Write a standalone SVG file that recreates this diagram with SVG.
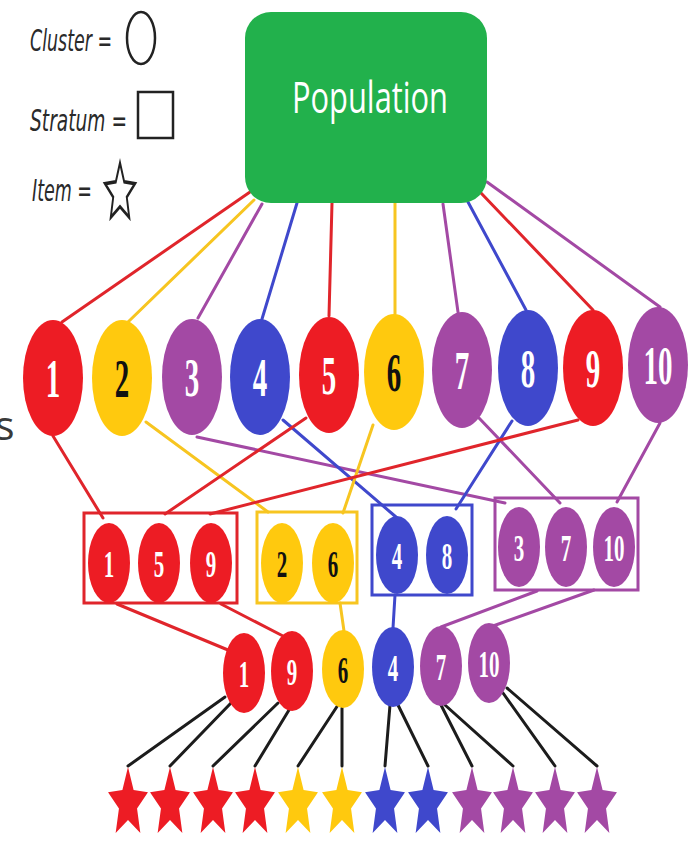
<svg xmlns="http://www.w3.org/2000/svg" width="693" height="842" viewBox="0 0 693 842">
<style>
.r{fill:#ED1C24}.y{fill:#FFC90E}.p{fill:#A349A4}.b{fill:#3F48CC}
.lr{stroke:#E0252B}.ly{stroke:#F7C520}.lp{stroke:#A349A4}.lb{stroke:#3F48CC}.lk{stroke:#1c1c1c;stroke-width:3.5}
.conn line{stroke-width:3;stroke-linecap:round}
.box{fill:none;stroke-width:3}
.n1{font-family:"Liberation Serif",serif;font-size:29px;font-weight:bold;text-anchor:middle;fill:#fff}
.n2{font-family:"Liberation Serif",serif;font-size:21px;font-weight:bold;text-anchor:middle;fill:#fff}
.dk{fill:#111}
.leg{font-family:"DejaVu Sans",sans-serif;font-style:italic;font-size:19px;fill:#2a2a2a}
.legs{fill:none;stroke:#222;stroke-width:2.5}
</style>
<defs>
<polygon id="star" points="0,-21 5.6,-7.7 19.97,-6.49 9.04,2.94 12.34,16.99 0,9.5 -12.34,16.99 -9.04,2.94 -19.97,-6.49 -5.6,-7.7"/>
</defs>
<rect width="693" height="842" fill="#fff"/>
<text x="-5" y="440" font-family="Open Sans, sans-serif" font-size="41" fill="#3a3a3a">s</text>

<g id="legend">
<text class="leg" transform="translate(30,51) scale(1,1.6)" textLength="82" lengthAdjust="spacingAndGlyphs">Cluster =</text>
<ellipse class="legs" cx="141" cy="38" rx="14" ry="26"/>
<text class="leg" transform="translate(30,131) scale(1,1.6)" textLength="97" lengthAdjust="spacingAndGlyphs">Stratum =</text>
<rect class="legs" x="138" y="92" width="35" height="46"/>
<text class="leg" transform="translate(32,201) scale(1,1.6)" textLength="60" lengthAdjust="spacingAndGlyphs">Item =</text>
<use href="#star" transform="translate(120,193) scale(0.75,1.44)" fill="#fff" stroke="#222" stroke-width="2.5" style="vector-effect:non-scaling-stroke"/>
</g>

<g class="conn" id="connectors">
<line class="lr" x1="250" y1="192" x2="62" y2="322"/>
<line class="ly" x1="254" y1="200" x2="128" y2="322"/>
<line class="lp" x1="262" y1="204" x2="198" y2="318"/>
<line class="lb" x1="297" y1="203" x2="262" y2="319"/>
<line class="lr" x1="332" y1="203" x2="329" y2="316"/>
<line class="ly" x1="395" y1="203" x2="395" y2="314"/>
<line class="lp" x1="443" y1="204" x2="458" y2="312"/>
<line class="lb" x1="468" y1="202" x2="526" y2="310"/>
<line class="lr" x1="481" y1="193" x2="593" y2="310"/>
<line class="lp" x1="487" y1="182" x2="660" y2="307"/>

<line class="lr" x1="53" y1="436" x2="103" y2="518"/>
<line class="ly" x1="146" y1="422" x2="268" y2="512"/>
<line class="lp" x1="197" y1="437" x2="505" y2="503"/>
<line class="lb" x1="283" y1="420" x2="396" y2="517"/>
<line class="lr" x1="306" y1="418" x2="165" y2="514"/>
<line class="ly" x1="373" y1="425" x2="343" y2="513"/>
<line class="lp" x1="479" y1="418" x2="560" y2="503"/>
<line class="lb" x1="512" y1="421" x2="456" y2="509"/>
<line class="lr" x1="578" y1="420" x2="210" y2="514"/>
<line class="lp" x1="660" y1="423" x2="617" y2="502"/>

<line class="lr" x1="117" y1="604" x2="228" y2="650"/>
<line class="lr" x1="221" y1="604" x2="283" y2="636"/>
<line class="ly" x1="340" y1="603" x2="344" y2="631"/>
<line class="lb" x1="395" y1="595" x2="393" y2="628"/>
<line class="lp" x1="537" y1="591" x2="441" y2="627"/>
<line class="lp" x1="594" y1="590" x2="493" y2="626"/>

<line class="lk" x1="225" y1="697" x2="128" y2="766"/>
<line class="lk" x1="231" y1="703" x2="170" y2="766"/>
<line class="lk" x1="278" y1="703" x2="213" y2="766"/>
<line class="lk" x1="289" y1="710" x2="255" y2="766"/>
<line class="lk" x1="338" y1="705" x2="298" y2="766"/>
<line class="lk" x1="342" y1="708" x2="342" y2="766"/>
<line class="lk" x1="390" y1="705" x2="385" y2="766"/>
<line class="lk" x1="398" y1="705" x2="428" y2="766"/>
<line class="lk" x1="441" y1="705" x2="472" y2="766"/>
<line class="lk" x1="445" y1="705" x2="513" y2="766"/>
<line class="lk" x1="503" y1="693" x2="555" y2="766"/>
<line class="lk" x1="507" y1="688" x2="597" y2="766"/>
</g>

<g id="population">
<rect x="245" y="12" width="242" height="191" rx="26" fill="#22B14C"/>
<text transform="translate(370,113) scale(1,1.35)" font-family="Open Sans, sans-serif" font-size="33" fill="#fff" text-anchor="middle" textLength="156" lengthAdjust="spacingAndGlyphs">Population</text>
</g>

<g id="cluster-1"><ellipse class="r" cx="53" cy="378" rx="30" ry="58"/><text class="n1" transform="translate(53,397) scale(1,1.9)">1</text></g>
<g id="cluster-2"><ellipse class="y" cx="122" cy="378" rx="30" ry="58"/><text class="n1 dk" transform="translate(122,397) scale(1,1.9)">2</text></g>
<g id="cluster-3"><ellipse class="p" cx="192" cy="377" rx="30" ry="58"/><text class="n1" transform="translate(192,396) scale(1,1.9)">3</text></g>
<g id="cluster-4"><ellipse class="b" cx="260" cy="377" rx="30" ry="58"/><text class="n1" transform="translate(260,396) scale(1,1.9)">4</text></g>
<g id="cluster-5"><ellipse class="r" cx="329" cy="375" rx="30" ry="58"/><text class="n1" transform="translate(329,394) scale(1,1.9)">5</text></g>
<g id="cluster-6"><ellipse class="y" cx="394" cy="372" rx="30" ry="58"/><text class="n1 dk" transform="translate(394,391) scale(1,1.9)">6</text></g>
<g id="cluster-7"><ellipse class="p" cx="462" cy="370" rx="30" ry="58"/><text class="n1" transform="translate(462,389) scale(1,1.9)">7</text></g>
<g id="cluster-8"><ellipse class="b" cx="528" cy="368" rx="30" ry="58"/><text class="n1" transform="translate(528,387) scale(1,1.9)">8</text></g>
<g id="cluster-9"><ellipse class="r" cx="593" cy="368" rx="30" ry="58"/><text class="n1" transform="translate(593,387) scale(1,1.9)">9</text></g>
<g id="cluster-10"><ellipse class="p" cx="658" cy="365" rx="30" ry="58"/><text class="n1" transform="translate(658,384) scale(1,1.9)">10</text></g>

<g id="stratum-red">
<rect class="box" x="84" y="513" width="153" height="90" stroke="#E0252B"/>
<ellipse class="r" cx="109" cy="563" rx="21" ry="40"/><text class="n2" transform="translate(109,577) scale(1,1.85)">1</text>
<ellipse class="r" cx="159" cy="563" rx="21" ry="40"/><text class="n2" transform="translate(159,577) scale(1,1.85)">5</text>
<ellipse class="r" cx="211" cy="563" rx="21" ry="40"/><text class="n2" transform="translate(211,577) scale(1,1.85)">9</text>
</g>
<g id="stratum-yellow">
<rect class="box" x="257" y="512" width="100" height="91" stroke="#F7C520"/>
<ellipse class="y" cx="282" cy="563" rx="21" ry="40"/><text class="n2 dk" transform="translate(282,577) scale(1,1.85)">2</text>
<ellipse class="y" cx="333" cy="563" rx="21" ry="40"/><text class="n2 dk" transform="translate(333,577) scale(1,1.85)">6</text>
</g>
<g id="stratum-blue">
<rect class="box" x="372" y="505" width="100" height="90" stroke="#3F48CC"/>
<ellipse class="b" cx="397" cy="555" rx="21" ry="39"/><text class="n2" transform="translate(397,569) scale(1,1.85)">4</text>
<ellipse class="b" cx="447" cy="555" rx="21" ry="39"/><text class="n2" transform="translate(447,569) scale(1,1.85)">8</text>
</g>
<g id="stratum-purple">
<rect class="box" x="495" y="498" width="143" height="92" stroke="#A349A4"/>
<ellipse class="p" cx="519" cy="547" rx="21" ry="40"/><text class="n2" transform="translate(519,561) scale(1,1.85)">3</text>
<ellipse class="p" cx="566" cy="547" rx="21" ry="40"/><text class="n2" transform="translate(566,561) scale(1,1.85)">7</text>
<ellipse class="p" cx="614" cy="547" rx="21" ry="40"/><text class="n2" transform="translate(614,561) scale(1,1.85)">10</text>
</g>

<g id="sample-1"><ellipse class="r" cx="244" cy="673" rx="21" ry="40"/><text class="n2" transform="translate(244,687) scale(1,1.85)">1</text></g>
<g id="sample-9"><ellipse class="r" cx="292" cy="671" rx="21" ry="40"/><text class="n2" transform="translate(292,685) scale(1,1.85)">9</text></g>
<g id="sample-6"><ellipse class="y" cx="343" cy="669" rx="21" ry="39"/><text class="n2 dk" transform="translate(343,683) scale(1,1.85)">6</text></g>
<g id="sample-4"><ellipse class="b" cx="393" cy="667" rx="21" ry="40"/><text class="n2" transform="translate(393,681) scale(1,1.85)">4</text></g>
<g id="sample-7"><ellipse class="p" cx="441" cy="666" rx="21" ry="40"/><text class="n2" transform="translate(441,680) scale(1,1.85)">7</text></g>
<g id="sample-10"><ellipse class="p" cx="489" cy="663" rx="21" ry="40"/><text class="n2" transform="translate(489,677) scale(1,1.85)">10</text></g>

<g id="items">
<use href="#star" class="r" transform="translate(128,803.5) scale(1,1.74)"/>
<use href="#star" class="r" transform="translate(170,803.5) scale(1,1.74)"/>
<use href="#star" class="r" transform="translate(213,803.5) scale(1,1.74)"/>
<use href="#star" class="r" transform="translate(255,803.5) scale(1,1.74)"/>
<use href="#star" class="y" transform="translate(298,803.5) scale(1,1.74)"/>
<use href="#star" class="y" transform="translate(342,803.5) scale(1,1.74)"/>
<use href="#star" class="b" transform="translate(385,803.5) scale(1,1.74)"/>
<use href="#star" class="b" transform="translate(428,803.5) scale(1,1.74)"/>
<use href="#star" class="p" transform="translate(472,803.5) scale(1,1.74)"/>
<use href="#star" class="p" transform="translate(513,803.5) scale(1,1.74)"/>
<use href="#star" class="p" transform="translate(555,803.5) scale(1,1.74)"/>
<use href="#star" class="p" transform="translate(597,803.5) scale(1,1.74)"/>
</g>
</svg>
